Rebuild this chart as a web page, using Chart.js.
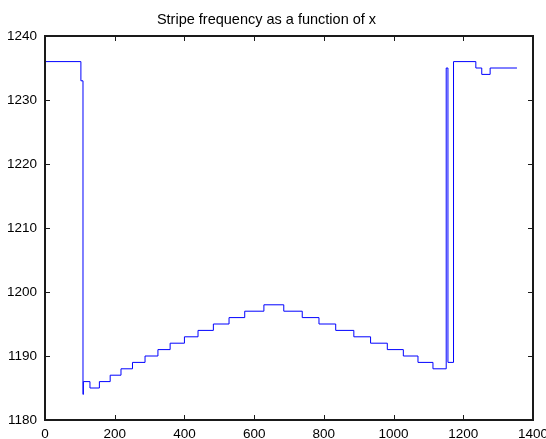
<!DOCTYPE html>
<html>
<head>
<meta charset="utf-8">
<title>Stripe frequency</title>
<script src="https://cdn.jsdelivr.net/npm/chart.js@4/dist/chart.umd.min.js"></script>
<style>
  html, body { margin: 0; padding: 0; background: #fff; }
  canvas { display: block; }
</style>
</head>
<body>
<canvas id="grafico" width="546" height="439"></canvas>
<script>
// x where each level starts, and the level held from there on
const stepX = [0, 103, 109, 110, 129, 156, 187, 218, 251, 287, 324, 359, 400, 439, 483, 528,
               573, 628, 685, 738, 786, 834, 886, 934, 982, 1028, 1070, 1113, 1151, 1156,
               1172, 1236, 1253, 1277, 1354];
const stepY = [1236, 1233, 1184, 1186, 1185, 1186, 1187, 1188, 1189, 1190, 1191, 1192, 1193, 1194, 1195, 1196,
               1197, 1198, 1197, 1196, 1195, 1194, 1193, 1192, 1191, 1190, 1189, 1188, 1235, 1189,
               1236, 1235, 1234, 1235, 1235];
const xTicks = [0, 200, 400, 600, 800, 1000, 1200, 1400];
const yTicks = [1180, 1190, 1200, 1210, 1220, 1230, 1240];

const fonte = { family: '"Liberation Sans", Arial, sans-serif', size: 13.5 };

// caixa do eixo e marcas para dentro, estilo MATLAB
const caixaMatlab = {
    id: 'caixaMatlab',
    afterDraw(chart) {
        const { ctx, chartArea: a, scales: { x, y } } = chart;
        const L = Math.round(a.left), R = Math.round(a.right);
        const T = Math.round(a.top), B = Math.round(a.bottom);
        const len = 5;
        ctx.save();
        ctx.strokeStyle = '#1a1a1a';
        ctx.lineWidth = 2;
        ctx.beginPath();
        ctx.rect(L, T, R - L, B - T);
        ctx.stroke();
        ctx.lineWidth = 1;
        ctx.beginPath();
        xTicks.forEach(v => {
            const px = Math.round(x.getPixelForValue(v)) + 0.5;
            ctx.moveTo(px, B); ctx.lineTo(px, B - len);
            ctx.moveTo(px, T); ctx.lineTo(px, T + len);
        });
        yTicks.forEach(v => {
            const py = Math.round(y.getPixelForValue(v)) + 0.5;
            ctx.moveTo(L, py); ctx.lineTo(L + len, py);
            ctx.moveTo(R, py); ctx.lineTo(R - len, py);
        });
        ctx.stroke();
        ctx.restore();
    }
};

new Chart(document.getElementById('grafico'), {
    type: 'line',
    data: {
        datasets: [{
            data: stepX.map((v, i) => ({ x: v, y: stepY[i] })),
            borderColor: '#0000ff',
            borderWidth: 1,
            pointRadius: 0,
            stepped: true,
            fill: false
        }]
    },
    options: {
        responsive: false,
        animation: false,
        layout: { padding: { left: 0, right: 13, top: 0, bottom: 0 } },
        plugins: {
            legend: { display: false },
            tooltip: { enabled: false },
            title: {
                display: true,
                text: 'Stripe frequency as a function of x',
                color: '#000',
                font: { family: fonte.family, size: 14.5, weight: 'normal', lineHeight: 1.2 },
                padding: { top: 11.3, bottom: 7.3 }
            }
        },
        scales: {
            x: {
                type: 'linear',
                min: 0, max: 1400,
                afterBuildTicks: s => { s.ticks = xTicks.map(v => ({ value: v })); },
                afterFit: s => { s.height = 19; s.paddingLeft = 0; s.paddingRight = 0; },
                grid: { display: false, drawTicks: false },
                border: { display: false },
                ticks: { color: '#000', font: fonte, padding: 6, maxRotation: 0, callback: v => String(v) }
            },
            y: {
                min: 1180, max: 1240,
                afterBuildTicks: s => { s.ticks = yTicks.map(v => ({ value: v })); },
                afterFit: s => { s.width = 45; },
                grid: { display: false, drawTicks: false },
                border: { display: false },
                ticks: { color: '#000', font: fonte, padding: 8, callback: v => String(v) }
            }
        }
    },
    plugins: [caixaMatlab]
});
</script>
</body>
</html>
